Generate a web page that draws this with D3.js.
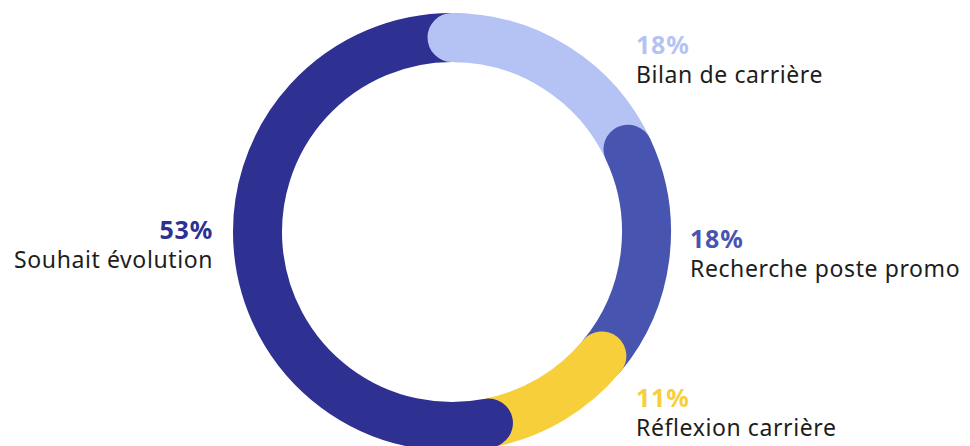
<!DOCTYPE html>
<html>
<head>
<meta charset="utf-8">
<script src="https://cdn.jsdelivr.net/npm/d3@7"></script>
<style>
  body { margin: 0; background: #fff; }
  .pct { font-family: "Noto Sans", sans-serif; font-weight: 700; font-size: 25px; letter-spacing: 0.8px; }
  .lbl { font-family: "Noto Sans", sans-serif; font-weight: 400; font-size: 23px; letter-spacing: 0.6px; fill: #1d1d1b; }
</style>
</head>
<body>
<div id="chart"></div>
<script>
var categories = ["Bilan de carrière", "Recherche poste promo", "Réflexion carrière", "Souhait évolution"];
var values = [18, 18, 11, 53];
var colors = ["#b4c3f4", "#4754b0", "#f7cf3b", "#2e3092"];

var svgWidth = 970;
var svgHeight = 446;

var cx = 452, cy = 232;
var ringRadius = 194.5;
var ringWidth = 49;

// label placement (x, baseline of the percent, anchor)
var labelPos = [
  { x: 636, y: 54, anchor: "start" },
  { x: 690, y: 248, anchor: "start" },
  { x: 636, y: 407, anchor: "start" },
  { x: 213, y: 239, anchor: "end" }
];

var svg = d3.select("#chart")
  .append("svg")
  .attr("width", svgWidth)
  .attr("height", svgHeight);

var data = categories.map(function(c, i) {
  return { name: c, value: values[i], color: colors[i] };
});

var pie = d3.pie()
  .sort(null)
  .value(d => d.value);

var arcs = pie(data);

// centre line of the ring, stroked with round caps
function arcLine(a0, a1) {
  var p = d3.path();
  p.arc(cx, cy, ringRadius, a0 - Math.PI / 2, a1 - Math.PI / 2);
  return p.toString();
}

var ring = svg.append("g");

ring.selectAll("path.seg")
  .data(arcs)
  .enter()
  .append("path")
  .attr("class", "seg")
  .attr("d", d => arcLine(d.startAngle, d.endAngle))
  .attr("fill", "none")
  .attr("stroke", d => d.data.color)
  .attr("stroke-width", ringWidth)
  .attr("stroke-linecap", "round");

// put the first segment's start cap back over the last segment's end
var first = arcs[0];
ring.append("path")
  .attr("d", arcLine(first.startAngle, first.startAngle + 0.05))
  .attr("fill", "none")
  .attr("stroke", first.data.color)
  .attr("stroke-width", ringWidth)
  .attr("stroke-linecap", "round");

// labels
var labels = svg.append("g")
  .selectAll("g")
  .data(arcs)
  .enter()
  .append("g")
  .attr("transform", (d, i) => `translate(${labelPos[i].x}, ${labelPos[i].y})`);

labels.append("text")
  .attr("class", "pct")
  .attr("text-anchor", (d, i) => labelPos[i].anchor)
  .attr("fill", d => d.data.color)
  .text(d => d.data.value + "%");

labels.append("text")
  .attr("class", "lbl")
  .attr("y", 29)
  .attr("text-anchor", (d, i) => labelPos[i].anchor)
  .text(d => d.data.name);
</script>
</body>
</html>
